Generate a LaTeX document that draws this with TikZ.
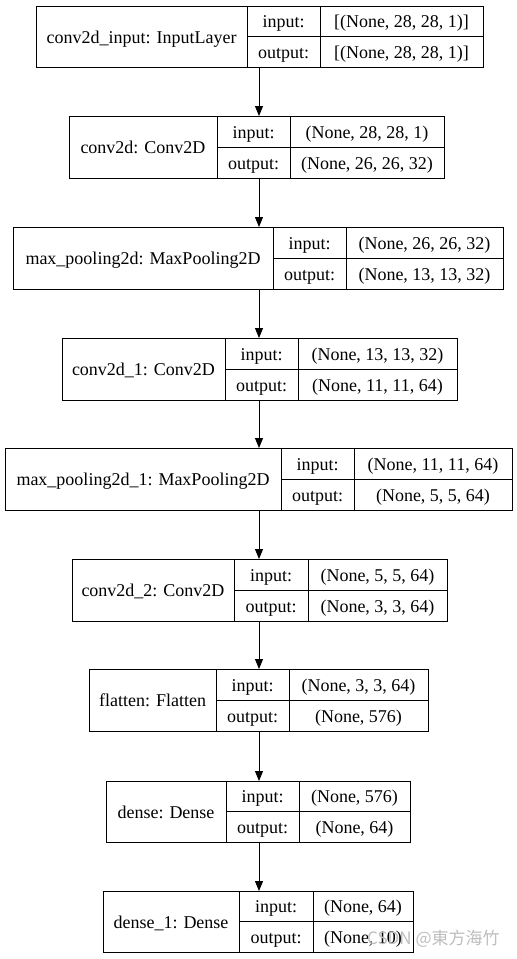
\documentclass[tikz,border=0pt]{standalone}
\usepackage{fontspec}
\setmainfont{Liberation Serif}
\newfontfamily\wmfont{Noto Sans CJK SC}
\usetikzlibrary{arrows.meta,calc}
\definecolor{wmgray}{RGB}{190,190,190}
\begin{document}
\begin{tikzpicture}[x=1pt,y=-1pt,
  layerbox/.style={draw=black,line width=1pt,inner sep=0pt,rectangle},
  cellline/.style={draw=black,line width=1pt},
  celltext/.style={font=\fontsize{18}{20}\selectfont,inner sep=0pt,text height=13pt,text depth=0pt,anchor=center},
  flow/.style={draw=black,line width=1pt,-{Triangle[length=10pt,width=8pt]}},
  watermark/.style={font=\wmfont\fontsize{17}{19}\selectfont,text=wmgray,inner sep=0pt,anchor=base west}]
\useasboundingbox (0,0) rectangle (517,959);
\fill[white] (0,0) rectangle (517,959);
\foreach \nm/\xl/\xa/\xb/\xr/\yt/\yb/\lab/\tin/\tout in {
  b1/36/247/320/483/6/67/{conv2d\_input: InputLayer}/{[(None, 28, 28, 1)]}/{[(None, 28, 28, 1)]},
  b2/69/217/290/444/116/178/{conv2d: Conv2D}/{(None, 28, 28, 1)}/{(None, 26, 26, 32)},
  b3/13/273/346/503/227/289/{max\_pooling2d: MaxPooling2D}/{(None, 26, 26, 32)}/{(None, 13, 13, 32)},
  b4/62/225/298/457/338/400/{conv2d\_1: Conv2D}/{(None, 13, 13, 32)}/{(None, 11, 11, 64)},
  b5/5/281/354/512/448/510/{max\_pooling2d\_1: MaxPooling2D}/{(None, 11, 11, 64)}/{(None, 5, 5, 64)},
  b6/72/234/308/447/559/621/{conv2d\_2: Conv2D}/{(None, 5, 5, 64)}/{(None, 3, 3, 64)},
  b7/89/216/289/428/669/731/{flatten: Flatten}/{(None, 3, 3, 64)}/{(None, 576)},
  b8/106/226/299/410/781/842/{dense: Dense}/{(None, 576)}/{(None, 64)},
  b9/103/239/313/413/891/952/{dense\_1: Dense}/{(None, 64)}/{(None, 10)}}
{
  \pgfmathsetmacro\boxw{\xr-\xl}
  \pgfmathsetmacro\boxh{\yb-\yt}
  \pgfmathsetmacro\ym{(\yt+\yb)/2}
  \node[layerbox,minimum width=\boxw pt,minimum height=\boxh pt,anchor=north west] (\nm) at (\xl,\yt) {};
  \draw[cellline] (\xa,\yt) -- (\xa,\yb);
  \draw[cellline] (\xb,\yt) -- (\xb,\yb);
  \draw[cellline] (\xa,\ym) -- (\xr,\ym);
  \node[celltext] (\nm-lab) at ({(\xl+\xa)/2},\ym) {\lab};
  \node[celltext] (\nm-ik) at ({(\xa+\xb)/2},{(\yt+\ym)/2}) {input:};
  \node[celltext] (\nm-ok) at ({(\xa+\xb)/2},{(\ym+\yb)/2}) {output:};
  \node[celltext] (\nm-iv) at ({(\xb+\xr)/2},{(\yt+\ym)/2}) {\tin};
  \node[celltext] (\nm-ov) at ({(\xb+\xr)/2},{(\ym+\yb)/2}) {\tout};
}
\coordinate (axis) at (259,0);
\foreach \u/\v in {b1/b2,b2/b3,b3/b4,b4/b5,b5/b6,b6/b7,b7/b8,b8/b9}
  \draw[flow] (\u.south -| axis) -- (\v.north -| axis);
\node[watermark] (wm) at (367,944) {CSDN @東方海竹};
\end{tikzpicture}
\end{document}
